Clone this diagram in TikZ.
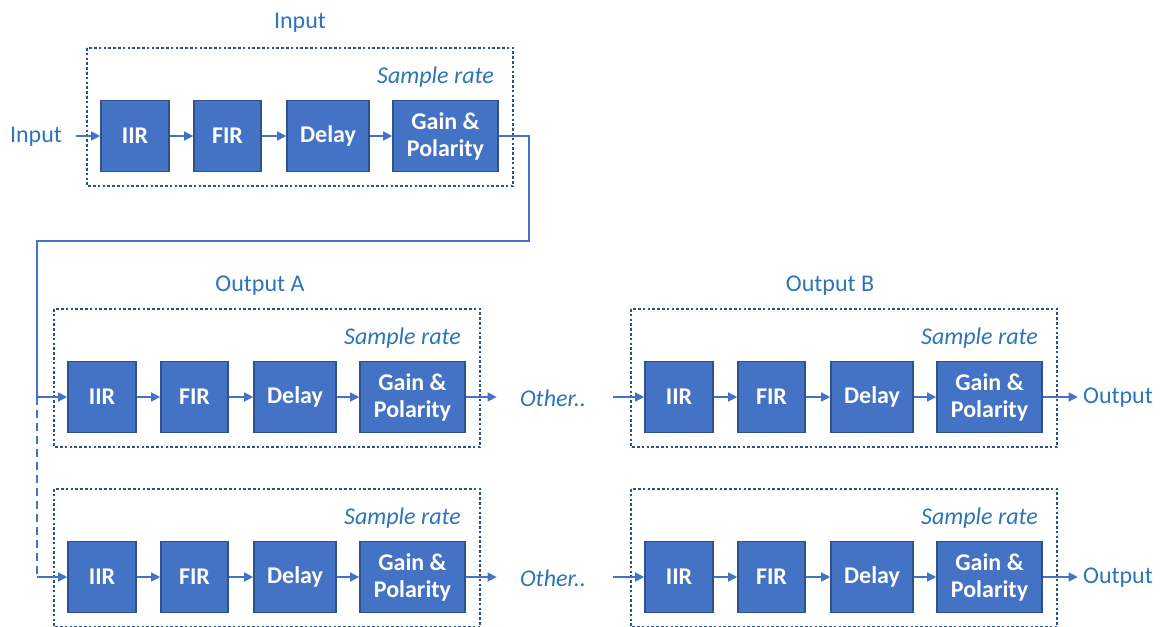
\documentclass[tikz,border=0pt]{standalone}
\usepackage{fontspec}
\setmainfont{Carlito}
\usetikzlibrary{positioning, arrows.meta}
\definecolor{blockfill}{HTML}{4472C4}
\definecolor{blockline}{HTML}{2F528F}
\definecolor{textblue}{HTML}{2E75B6}
\definecolor{arrowblue}{HTML}{4472C4}

\begin{document}
\begin{tikzpicture}[
    x=0.5pt, y=-0.5pt,
    font=\fontsize{12}{14}\selectfont,
    dsp_block/.style={rectangle, draw=blockline, fill=blockfill, line width=0.8pt, minimum height=35.5pt, inner sep=1pt, align=center, text=white, font=\fontsize{12}{13.5}\selectfont\bfseries},
    group_box/.style={draw=blockline, line width=1.4pt, dash pattern=on 1.3pt off 1.1pt},
    flow_arrow/.style={-{Triangle[length=4.5pt, width=4.5pt]}, draw=arrowblue, line width=0.65pt},
    label_text/.style={text=textblue},
    rate_text/.style={text=textblue, anchor=east, font=\fontsize{12}{14}\selectfont\itshape},
    other_text/.style={text=textblue, inner sep=0pt, font=\fontsize{12}{14}\selectfont\itshape}
]
\useasboundingbox (0,0) rectangle (1160,626);

% Titles
\node[label_text] (in_title) at (300,23) {Input};
\node[label_text] (a_title) at (260,286) {Output A};
\node[label_text] (b_title) at (830,286) {Output B};

% One chain per group: IIR -> FIR -> Delay -> Gain & Polarity
\foreach \g/\x/\y in {in/101/136, a1/68/397, a2/68/577, b1/645/397, b2/645/577} {
    \draw[group_box] (\x-14,\y-88) rectangle (\x+412,\y+50);
    \node[rate_text] (\g_rate) at (\x+400,\y-59) {Sample rate};
    \node[dsp_block, minimum width=34pt] (\g_iir) at (\x+34,\y) {IIR};
    \node[dsp_block, minimum width=33.5pt] (\g_fir) at (\x+126.5,\y) {FIR};
    \node[dsp_block, minimum width=41pt] (\g_delay) at (\x+227,\y) {Delay};
    \node[dsp_block, minimum width=52.5pt] (\g_gain) at (\x+344.5,\y) {Gain \&\\Polarity};
    \draw[flow_arrow] (\g_iir) -- (\g_fir);
    \draw[flow_arrow] (\g_fir) -- (\g_delay);
    \draw[flow_arrow] (\g_delay) -- (\g_gain);
}

% Input
\node[label_text] (input) at (36,137) {Input};
\draw[flow_arrow, shorten <=3.5pt] (input.east |- in_iir) -- (in_iir);

% Input chain feeds output A rows
\coordinate (turn) at (529,241);
\coordinate (split_a1) at (37,397);
\coordinate (split_a2) at (37,577);
\draw[flow_arrow] (in_gain.east) -| (turn) -| (split_a1) -- (a1_iir.west);
\draw[arrowblue, line width=0.65pt, dash pattern=on 4pt off 2.5pt] (split_a1) -- (split_a2);
\draw[flow_arrow] (split_a2) -- (a2_iir.west);

% Other.. between A and B
\node[other_text] (other1) at (553,398) {Other..};
\node[other_text] (other2) at (553,578) {Other..};
\draw[flow_arrow, shorten >=11.5pt] (a1_gain) -- (other1.west |- a1_gain);
\draw[flow_arrow, shorten >=11.5pt] (a2_gain) -- (other2.west |- a2_gain);
\draw[flow_arrow, shorten <=13.5pt] (other1.east |- b1_iir) -- (b1_iir);
\draw[flow_arrow, shorten <=13.5pt] (other2.east |- b2_iir) -- (b2_iir);

% Outputs
\node[label_text, inner sep=0pt] (out1) at (1118,398) {Output};
\node[label_text, inner sep=0pt] (out2) at (1118,578) {Output};
\draw[flow_arrow, shorten >=2.5pt] (b1_gain) -- (out1.west |- b1_gain);
\draw[flow_arrow, shorten >=2.5pt] (b2_gain) -- (out2.west |- b2_gain);

\end{tikzpicture}
\end{document}
